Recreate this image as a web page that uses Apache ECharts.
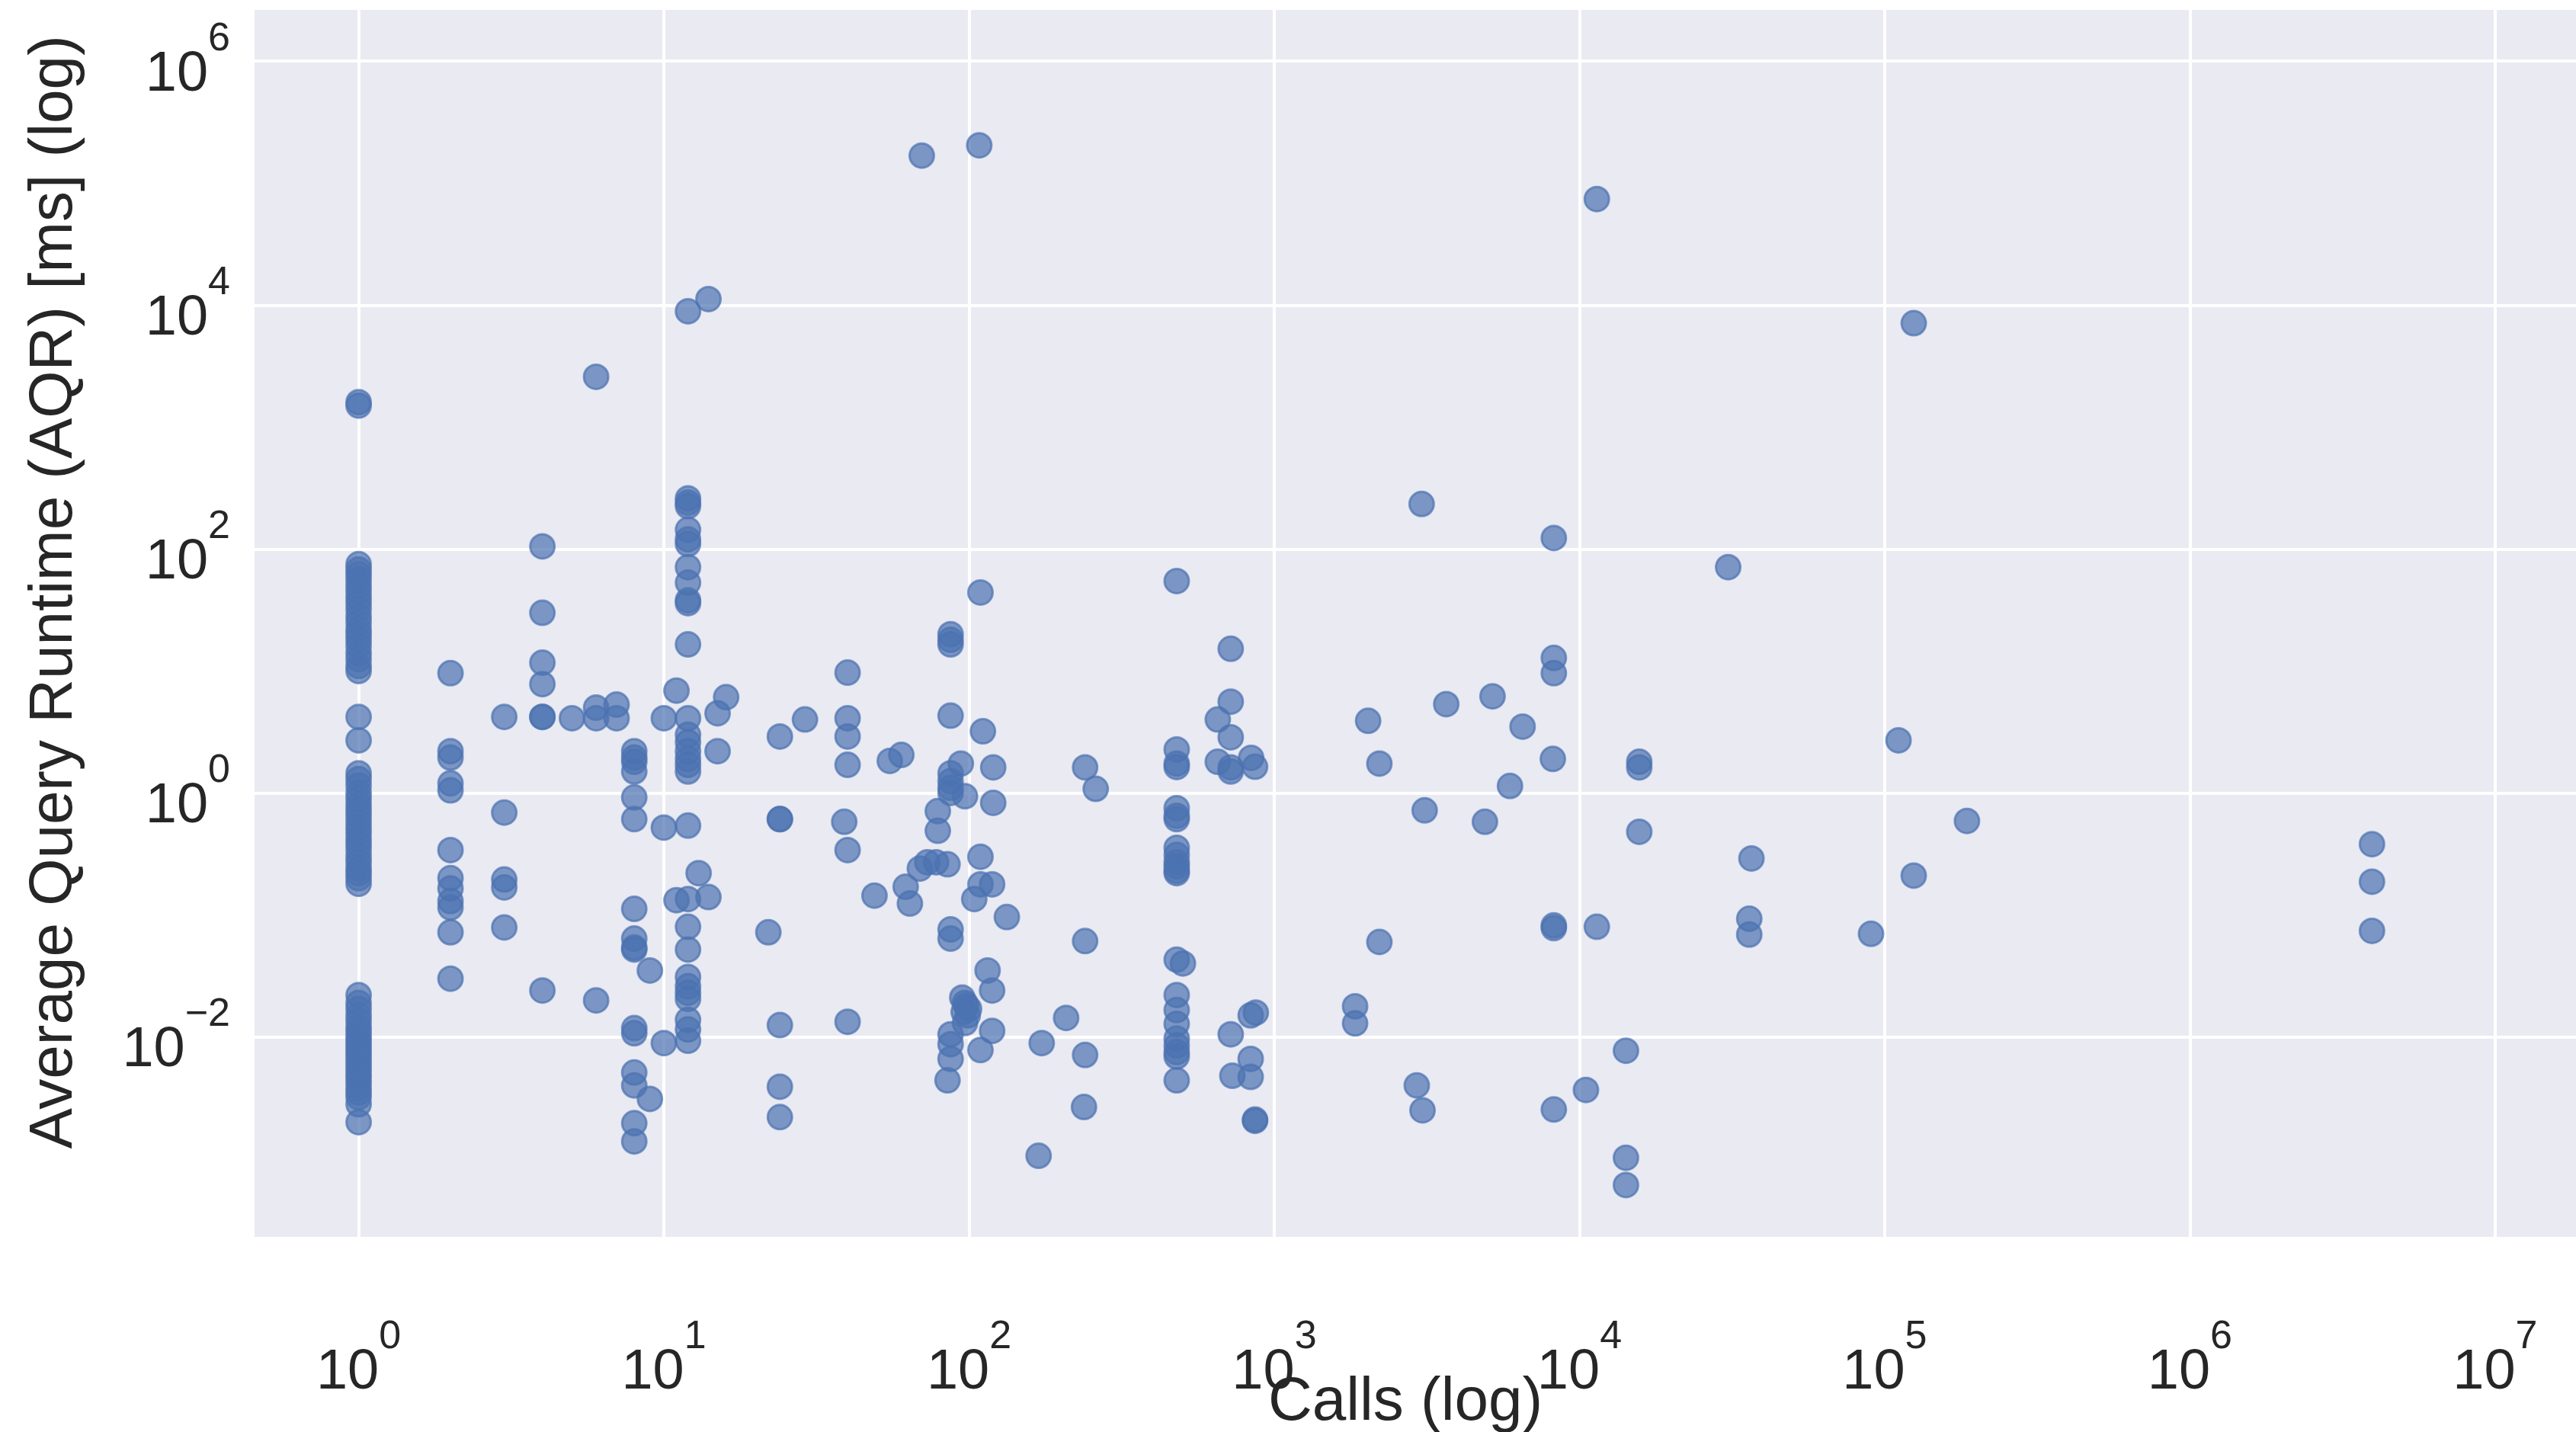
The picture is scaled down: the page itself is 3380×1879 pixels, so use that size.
<!DOCTYPE html>
<html>
<head>
<meta charset="utf-8">
<script src="https://cdn.jsdelivr.net/npm/echarts@6/dist/echarts.min.js"></script>
<style>
html,body{margin:0;padding:0;background:#ffffff;}
#chart{width:3380px;height:1879px;}
</style>
</head>
<body>
<div id="chart"></div>
<script>
// ---- data ----
// number of calls for each group of queries
const callCounts = [
  1, 2, 3, 4, 5, 6, 7, 8, 9, 10, 11, 12, 13, 14, 15, 16, 22, 24, 29, 39, 40,
  49, 55, 60, 62, 64, 69, 70, 73, 78, 79, 85, 87, 94, 95, 96, 97, 98, 99, 100,
  104, 108, 109, 111, 115, 119, 120, 133, 169, 173, 208, 238, 240, 260,
  479, 502, 653, 720, 729, 837, 840, 865, 870,
  1840, 2030, 2210, 2930, 3040, 3060, 3110, 3660, 4900, 5190, 5920, 6510,
  8180, 8240, 10500, 11400, 14200, 15700, 30700, 36000, 36600, 90200,
  111000, 124500, 186000, 3950000
];
// average query runtime [ms] of the queries having that call count
const runtimeMsByCalls = [
  [1600, 1500, 75, 68, 62, 56, 50, 45, 40, 36, 32, 28, 25, 22, 20, 18, 16, 14, 12.5, 11, 10,
   4.2, 2.7, 1.45, 1.3, 1.15, 1.0, 0.9, 0.8, 0.72, 0.65, 0.58, 0.52, 0.47, 0.42, 0.38, 0.34,
   0.3, 0.27, 0.24, 0.22, 0.2, 0.18, 0.022, 0.019, 0.017, 0.015, 0.0135, 0.012, 0.011, 0.010,
   0.0092, 0.0085, 0.0078, 0.0072, 0.0066, 0.006, 0.0055, 0.005, 0.0046, 0.0042, 0.0038,
   0.0035, 0.0032, 0.0028, 0.002],                                   // 1
  [9.6, 2.2, 1.95, 1.2, 1.05, 0.34, 0.2, 0.165, 0.13, 0.115, 0.072, 0.030], // 2
  [4.2, 0.69, 0.195, 0.168, 0.079],                                  // 3
  [105, 30, 11.7, 7.8, 4.2, 4.2, 0.024],                             // 4
  [4.1],                                                             // 5
  [2580, 5.0, 4.1, 0.0199],                                          // 6
  [5.3, 4.1],                                                        // 7
  [2.2, 1.95, 1.8, 1.5, 0.92, 0.61, 0.112, 0.064, 0.054, 0.052, 0.0118, 0.0107,
   0.0051, 0.0040, 0.00196, 0.00139],                                // 8
  [0.035, 0.0031],                                                   // 9
  [4.1, 0.52, 0.0089],                                               // 10
  [6.9, 0.132],                                                      // 11
  [8900, 260, 240, 225, 144, 120, 110, 71, 53, 38, 36, 16.5, 4.1, 3.0, 2.6, 2.2, 1.9,
   1.7, 1.5, 0.54, 0.135, 0.080, 0.052, 0.031, 0.026, 0.023, 0.0205, 0.0138, 0.0115, 0.0093], // 12
  [0.22],                                                            // 13
  [11200, 0.14],                                                     // 14
  [4.5, 2.2],                                                        // 15
  [6.1],                                                             // 16
  [0.072],                                                           // 22
  [2.9, 0.61, 0.61, 0.0125, 0.0039, 0.0022],                         // 24
  [4.0],                                                             // 29
  [0.58],                                                            // 39
  [9.7, 4.1, 2.9, 1.7, 0.34, 0.0133],                                // 40
  [0.144],                                                           // 49
  [1.83],                                                            // 55
  [2.05],                                                            // 60
  [0.17],                                                            // 62
  [0.124],                                                           // 64
  [0.24],                                                            // 69
  [168000],                                                          // 70
  [0.27],                                                            // 73
  [0.27],                                                            // 78
  [0.71, 0.49],                                                      // 79
  [0.26, 0.0044],                                                    // 85
  [20, 18, 16.5, 4.3, 1.45, 1.25, 1.1, 1.0, 0.076, 0.064, 0.0105, 0.0087, 0.0066], // 87
  [1.74],                                                            // 94
  [0.021],                                                           // 95
  [0.016],                                                           // 96
  [0.94, 0.019, 0.013],                                              // 97
  [0.018],                                                           // 98
  [0.015],                                                           // 99
  [0.017],                                                           // 100
  [0.135],                                                           // 104
  [204000],                                                          // 108
  [44, 0.30, 0.178, 0.0078],                                         // 109
  [3.2],                                                             // 111
  [0.035],                                                           // 115
  [0.178, 0.024, 0.0112],                                            // 119
  [1.62, 0.83],                                                      // 120
  [0.096],                                                           // 133
  [0.00106],                                                         // 169
  [0.0089],                                                          // 173
  [0.0143],                                                          // 208
  [0.00266],                                                         // 238
  [1.62, 0.061, 0.0071],                                             // 240
  [1.08],                                                            // 260
  [54.6, 2.27, 1.74, 1.63, 0.75, 0.65, 0.61, 0.355, 0.31, 0.27, 0.25, 0.23, 0.22, 0.043,
   0.022, 0.0166, 0.0128, 0.0097, 0.0085, 0.0075, 0.0069, 0.0044],   // 479
  [0.040],                                                           // 502
  [4.0, 1.8],                                                        // 653
  [15.2, 5.6, 2.86, 1.62, 1.5, 0.0105],                              // 720
  [0.0048],                                                          // 729
  [0.0066, 0.0047, 0.015],                                           // 837
  [1.94],                                                            // 840
  [1.64, 0.0021, 0.00205],                                           // 865
  [0.0158],                                                          // 870
  [0.0178, 0.0129],                                                  // 1840
  [3.9],                                                             // 2030
  [1.74, 0.060],                                                     // 2210
  [0.0040],                                                          // 2930
  [234],                                                             // 3040
  [0.0025],                                                          // 3060
  [0.72],                                                            // 3110
  [5.35],                                                            // 3660
  [0.58],                                                            // 4900
  [6.2],                                                             // 5190
  [1.14],                                                            // 5920
  [3.5],                                                             // 6510
  [1.9],                                                             // 8180
  [123, 12.8, 9.6, 0.082, 0.078, 0.00254],                           // 8240
  [0.00367],                                                         // 10500
  [74000, 0.080],                                                    // 11400
  [0.0077, 0.00102, 0.00061],                                        // 14200
  [1.8, 1.62, 0.48],                                                 // 15700
  [71],                                                              // 30700
  [0.093, 0.069],                                                    // 36000
  [0.29],                                                            // 36600
  [0.070],                                                           // 90200
  [2.7],                                                             // 111000
  [7100, 0.21],                                                      // 124500
  [0.59],                                                            // 186000
  [0.38, 0.187, 0.074]                                               // 3950000
];
// axis extents as decimal exponents (log10 of calls / of ms)
const xExtentLog = [-0.341, 7.265];
const yExtentLog = [-3.64, 6.42];
const xTickStep = 1;   // one label per decade of calls
const yTickStep = 2;   // one label every two decades of ms
const xTitle = 'Calls (log)';
const yTitle = 'Average Query Runtime (AQR) [ms] (log)';

// ---- build ----
const points = [];
callCounts.forEach(function (c, i) {
  runtimeMsByCalls[i].forEach(function (ms) {
    points.push([Math.log10(c), Math.log10(ms)]);
  });
});

const FONT = "'Liberation Sans', Arial, Helvetica, sans-serif";
const TEXT = '#262626';
const rich = {
  b: { fontSize: 74, lineHeight: 110, verticalAlign: 'bottom', color: TEXT, fontFamily: FONT },
  s: { fontSize: 52, lineHeight: 10, verticalAlign: 'top', color: TEXT, fontFamily: FONT }
};
function powLabel(v) {
  const n = Math.round(v);
  if (Math.abs(v - n) > 1e-6) return '';
  return '{b|10}{s|' + (n < 0 ? '\u2212' + (-n) : String(n)) + '}';
}
const gridLine = { color: '#ffffff', width: 4 };

const chart = echarts.init(document.getElementById('chart'), null, { renderer: 'canvas' });
chart.setOption({
  animation: false,
  backgroundColor: '#ffffff',
  grid: {
    left: 334, right: 0, top: 13, bottom: 256,
    show: true, backgroundColor: '#EAEAF2', borderWidth: 0,
    containLabel: false, outerBoundsMode: 'none'
  },
  xAxis: {
    type: 'value',
    min: xExtentLog[0], max: xExtentLog[1],
    minInterval: xTickStep, maxInterval: xTickStep,
    axisLine: { show: false }, axisTick: { show: false },
    splitLine: { show: true, showMinLine: false, showMaxLine: false, lineStyle: gridLine },
    axisLabel: { formatter: powLabel, rich: rich, margin: 106 },
    name: xTitle, nameLocation: 'middle', nameGap: 178, nameMoveOverlap: false,
    nameTextStyle: { fontSize: 80, color: TEXT, fontFamily: FONT, padding: [0, 26, 0, 0] }
  },
  yAxis: {
    type: 'value',
    min: yExtentLog[0], max: yExtentLog[1],
    minInterval: yTickStep, maxInterval: yTickStep,
    axisLine: { show: false }, axisTick: { show: false },
    splitLine: { show: true, showMinLine: false, showMaxLine: false, lineStyle: gridLine },
    axisLabel: { formatter: powLabel, rich: rich, margin: 32 },
    name: yTitle, nameLocation: 'middle', nameGap: 222, nameMoveOverlap: false,
    nameTextStyle: { fontSize: 80, color: TEXT, fontFamily: FONT, padding: [0, 0, 0, 82] }
  },
  series: [{
    type: 'scatter',
    data: points,
    symbol: 'circle',
    symbolSize: 32,
    silent: true,
    itemStyle: { color: '#4C72B0', borderColor: '#4C72B0', borderWidth: 3, opacity: 0.7 },
    emphasis: { disabled: true }
  }]
});
</script>
</body>
</html>
